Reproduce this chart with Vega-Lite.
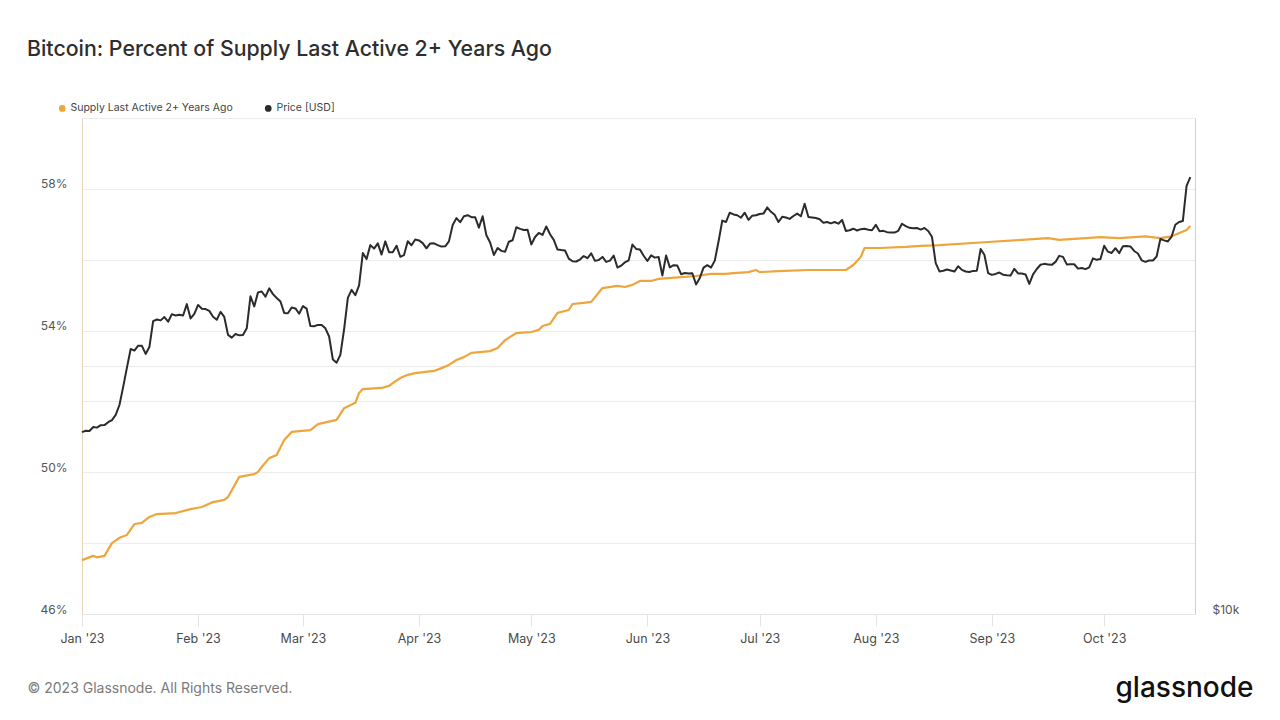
{
  "$schema": "https://vega.github.io/schema/vega-lite/v6.json",
  "width": 1113,
  "height": 496,
  "autosize": {"type": "none"},
  "padding": {"left": 82, "top": 118, "right": 85, "bottom": 106},
  "background": "white",
  "title": {
    "text": "Bitcoin: Percent of Supply Last Active 2+ Years Ago",
    "anchor": "start",
    "frame": "group",
    "dx": -55,
    "offset": 43,
    "fontSize": 21.3,
    "fontWeight": 500,
    "color": "#2e2e2e",
    "font": "Inter"
  },
  "datasets": {
    "supply": [
      {"date": "2023-01-01", "value": 47.52},
      {"date": "2023-01-04", "value": 47.64},
      {"date": "2023-01-05", "value": 47.60},
      {"date": "2023-01-07", "value": 47.64},
      {"date": "2023-01-09", "value": 48.00},
      {"date": "2023-01-11", "value": 48.15},
      {"date": "2023-01-13", "value": 48.23},
      {"date": "2023-01-15", "value": 48.54},
      {"date": "2023-01-17", "value": 48.57},
      {"date": "2023-01-19", "value": 48.74},
      {"date": "2023-01-21", "value": 48.82},
      {"date": "2023-01-26", "value": 48.85},
      {"date": "2023-01-30", "value": 48.96},
      {"date": "2023-02-02", "value": 49.02},
      {"date": "2023-02-05", "value": 49.16},
      {"date": "2023-02-08", "value": 49.22},
      {"date": "2023-02-09", "value": 49.30},
      {"date": "2023-02-12", "value": 49.87},
      {"date": "2023-02-16", "value": 49.95},
      {"date": "2023-02-17", "value": 50.01},
      {"date": "2023-02-18", "value": 50.15},
      {"date": "2023-02-20", "value": 50.40},
      {"date": "2023-02-22", "value": 50.49},
      {"date": "2023-02-24", "value": 50.91},
      {"date": "2023-02-26", "value": 51.14},
      {"date": "2023-03-03", "value": 51.19},
      {"date": "2023-03-05", "value": 51.36},
      {"date": "2023-03-10", "value": 51.48},
      {"date": "2023-03-12", "value": 51.81},
      {"date": "2023-03-15", "value": 51.96},
      {"date": "2023-03-16", "value": 52.24},
      {"date": "2023-03-17", "value": 52.35},
      {"date": "2023-03-22", "value": 52.38},
      {"date": "2023-03-24", "value": 52.44},
      {"date": "2023-03-25", "value": 52.52},
      {"date": "2023-03-27", "value": 52.66},
      {"date": "2023-03-29", "value": 52.75},
      {"date": "2023-03-31", "value": 52.80},
      {"date": "2023-04-05", "value": 52.86},
      {"date": "2023-04-07", "value": 52.94},
      {"date": "2023-04-09", "value": 53.03},
      {"date": "2023-04-11", "value": 53.17},
      {"date": "2023-04-13", "value": 53.25},
      {"date": "2023-04-15", "value": 53.37},
      {"date": "2023-04-20", "value": 53.42},
      {"date": "2023-04-22", "value": 53.51},
      {"date": "2023-04-24", "value": 53.73},
      {"date": "2023-04-27", "value": 53.93},
      {"date": "2023-05-01", "value": 53.96},
      {"date": "2023-05-03", "value": 54.02},
      {"date": "2023-05-04", "value": 54.13},
      {"date": "2023-05-06", "value": 54.19},
      {"date": "2023-05-08", "value": 54.50},
      {"date": "2023-05-11", "value": 54.58},
      {"date": "2023-05-12", "value": 54.75},
      {"date": "2023-05-15", "value": 54.78},
      {"date": "2023-05-17", "value": 54.81},
      {"date": "2023-05-20", "value": 55.20},
      {"date": "2023-05-24", "value": 55.26},
      {"date": "2023-05-26", "value": 55.23},
      {"date": "2023-05-28", "value": 55.29},
      {"date": "2023-05-30", "value": 55.40},
      {"date": "2023-06-02", "value": 55.40},
      {"date": "2023-06-04", "value": 55.46},
      {"date": "2023-06-10", "value": 55.51},
      {"date": "2023-06-14", "value": 55.54},
      {"date": "2023-06-18", "value": 55.60},
      {"date": "2023-06-22", "value": 55.60},
      {"date": "2023-06-24", "value": 55.62},
      {"date": "2023-06-28", "value": 55.65},
      {"date": "2023-06-30", "value": 55.71},
      {"date": "2023-07-01", "value": 55.65},
      {"date": "2023-07-06", "value": 55.68},
      {"date": "2023-07-14", "value": 55.71},
      {"date": "2023-07-24", "value": 55.71},
      {"date": "2023-07-26", "value": 55.85},
      {"date": "2023-07-28", "value": 56.08},
      {"date": "2023-07-29", "value": 56.33},
      {"date": "2023-08-02", "value": 56.33},
      {"date": "2023-08-09", "value": 56.36},
      {"date": "2023-08-13", "value": 56.39},
      {"date": "2023-08-18", "value": 56.41},
      {"date": "2023-08-31", "value": 56.50},
      {"date": "2023-09-09", "value": 56.56},
      {"date": "2023-09-16", "value": 56.61},
      {"date": "2023-09-19", "value": 56.56},
      {"date": "2023-09-26", "value": 56.61},
      {"date": "2023-09-30", "value": 56.64},
      {"date": "2023-10-05", "value": 56.61},
      {"date": "2023-10-12", "value": 56.66},
      {"date": "2023-10-16", "value": 56.61},
      {"date": "2023-10-19", "value": 56.66},
      {"date": "2023-10-23", "value": 56.84},
      {"date": "2023-10-24", "value": 56.95}
    ],
    "price": [
      {"date": "2023-01-01", "price": 16625}, {"date": "2023-01-02", "price": 16688}, {"date": "2023-01-03", "price": 16680},
      {"date": "2023-01-04", "price": 16863}, {"date": "2023-01-05", "price": 16836}, {"date": "2023-01-06", "price": 16951},
      {"date": "2023-01-07", "price": 16955}, {"date": "2023-01-08", "price": 17091}, {"date": "2023-01-09", "price": 17196},
      {"date": "2023-01-10", "price": 17446}, {"date": "2023-01-11", "price": 17934}, {"date": "2023-01-12", "price": 18869},
      {"date": "2023-01-13", "price": 19909}, {"date": "2023-01-14", "price": 20976}, {"date": "2023-01-15", "price": 20880},
      {"date": "2023-01-16", "price": 21170}, {"date": "2023-01-17", "price": 21161}, {"date": "2023-01-18", "price": 20688},
      {"date": "2023-01-19", "price": 21086}, {"date": "2023-01-20", "price": 22676}, {"date": "2023-01-21", "price": 22777},
      {"date": "2023-01-22", "price": 22720}, {"date": "2023-01-23", "price": 22934}, {"date": "2023-01-24", "price": 22636},
      {"date": "2023-01-25", "price": 23117}, {"date": "2023-01-26", "price": 23032}, {"date": "2023-01-27", "price": 23078},
      {"date": "2023-01-28", "price": 23031}, {"date": "2023-01-29", "price": 23775}, {"date": "2023-01-30", "price": 22840},
      {"date": "2023-01-31", "price": 23139}, {"date": "2023-02-01", "price": 23723}, {"date": "2023-02-02", "price": 23471},
      {"date": "2023-02-03", "price": 23449}, {"date": "2023-02-04", "price": 23331}, {"date": "2023-02-05", "price": 22955},
      {"date": "2023-02-06", "price": 22760}, {"date": "2023-02-07", "price": 23264}, {"date": "2023-02-08", "price": 22939},
      {"date": "2023-02-09", "price": 21819}, {"date": "2023-02-10", "price": 21651}, {"date": "2023-02-11", "price": 21870},
      {"date": "2023-02-12", "price": 21788}, {"date": "2023-02-13", "price": 21808}, {"date": "2023-02-14", "price": 22220},
      {"date": "2023-02-15", "price": 24307}, {"date": "2023-02-16", "price": 23624}, {"date": "2023-02-17", "price": 24570},
      {"date": "2023-02-18", "price": 24631}, {"date": "2023-02-19", "price": 24272}, {"date": "2023-02-20", "price": 24844},
      {"date": "2023-02-21", "price": 24450}, {"date": "2023-02-22", "price": 24188}, {"date": "2023-02-23", "price": 23947},
      {"date": "2023-02-24", "price": 23198}, {"date": "2023-02-25", "price": 23175}, {"date": "2023-02-26", "price": 23554},
      {"date": "2023-02-27", "price": 23493}, {"date": "2023-02-28", "price": 23147}, {"date": "2023-03-01", "price": 23646},
      {"date": "2023-03-02", "price": 23475}, {"date": "2023-03-03", "price": 22362}, {"date": "2023-03-04", "price": 22354},
      {"date": "2023-03-05", "price": 22436}, {"date": "2023-03-06", "price": 22429}, {"date": "2023-03-07", "price": 22220},
      {"date": "2023-03-08", "price": 21718}, {"date": "2023-03-09", "price": 20363}, {"date": "2023-03-10", "price": 20187},
      {"date": "2023-03-11", "price": 20633}, {"date": "2023-03-12", "price": 22163}, {"date": "2023-03-13", "price": 24197},
      {"date": "2023-03-14", "price": 24746}, {"date": "2023-03-15", "price": 24375}, {"date": "2023-03-16", "price": 25052},
      {"date": "2023-03-17", "price": 27423}, {"date": "2023-03-18", "price": 26966}, {"date": "2023-03-19", "price": 28038},
      {"date": "2023-03-20", "price": 27767}, {"date": "2023-03-21", "price": 28176}, {"date": "2023-03-22", "price": 27307},
      {"date": "2023-03-23", "price": 28333}, {"date": "2023-03-24", "price": 27493}, {"date": "2023-03-25", "price": 27494},
      {"date": "2023-03-26", "price": 27994}, {"date": "2023-03-27", "price": 27139}, {"date": "2023-03-28", "price": 27268},
      {"date": "2023-03-29", "price": 28348}, {"date": "2023-03-30", "price": 28033}, {"date": "2023-03-31", "price": 28478},
      {"date": "2023-04-01", "price": 28411}, {"date": "2023-04-02", "price": 28199}, {"date": "2023-04-03", "price": 27790},
      {"date": "2023-04-04", "price": 28168}, {"date": "2023-04-05", "price": 28177}, {"date": "2023-04-06", "price": 28044},
      {"date": "2023-04-07", "price": 27925}, {"date": "2023-04-08", "price": 27947}, {"date": "2023-04-09", "price": 28333},
      {"date": "2023-04-10", "price": 29653}, {"date": "2023-04-11", "price": 30235}, {"date": "2023-04-12", "price": 29896},
      {"date": "2023-04-13", "price": 30399}, {"date": "2023-04-14", "price": 30485}, {"date": "2023-04-15", "price": 30318},
      {"date": "2023-04-16", "price": 30315}, {"date": "2023-04-17", "price": 29445}, {"date": "2023-04-18", "price": 30397},
      {"date": "2023-04-19", "price": 28822}, {"date": "2023-04-20", "price": 28245}, {"date": "2023-04-21", "price": 27276},
      {"date": "2023-04-22", "price": 27817}, {"date": "2023-04-23", "price": 27591}, {"date": "2023-04-24", "price": 27525},
      {"date": "2023-04-25", "price": 28307}, {"date": "2023-04-26", "price": 28422}, {"date": "2023-04-27", "price": 29473},
      {"date": "2023-04-28", "price": 29340}, {"date": "2023-04-29", "price": 29248}, {"date": "2023-04-30", "price": 29268},
      {"date": "2023-05-01", "price": 28091}, {"date": "2023-05-02", "price": 28680}, {"date": "2023-05-03", "price": 29006},
      {"date": "2023-05-04", "price": 28847}, {"date": "2023-05-05", "price": 29534}, {"date": "2023-05-06", "price": 28904},
      {"date": "2023-05-07", "price": 28454}, {"date": "2023-05-08", "price": 27695}, {"date": "2023-05-09", "price": 27654},
      {"date": "2023-05-10", "price": 27621}, {"date": "2023-05-11", "price": 27000}, {"date": "2023-05-12", "price": 26804},
      {"date": "2023-05-13", "price": 26784}, {"date": "2023-05-14", "price": 26930}, {"date": "2023-05-15", "price": 27192},
      {"date": "2023-05-16", "price": 27036}, {"date": "2023-05-17", "price": 27398}, {"date": "2023-05-18", "price": 26832},
      {"date": "2023-05-19", "price": 26890}, {"date": "2023-05-20", "price": 27129}, {"date": "2023-05-21", "price": 26753},
      {"date": "2023-05-22", "price": 26851}, {"date": "2023-05-23", "price": 27225}, {"date": "2023-05-24", "price": 26334},
      {"date": "2023-05-25", "price": 26476}, {"date": "2023-05-26", "price": 26719}, {"date": "2023-05-27", "price": 26868},
      {"date": "2023-05-28", "price": 28085}, {"date": "2023-05-29", "price": 27745}, {"date": "2023-05-30", "price": 27702},
      {"date": "2023-05-31", "price": 27219}, {"date": "2023-06-01", "price": 26819}, {"date": "2023-06-02", "price": 27249},
      {"date": "2023-06-03", "price": 27075}, {"date": "2023-06-04", "price": 27119}, {"date": "2023-06-05", "price": 25760},
      {"date": "2023-06-06", "price": 27238}, {"date": "2023-06-07", "price": 26345}, {"date": "2023-06-08", "price": 26508},
      {"date": "2023-06-09", "price": 26480}, {"date": "2023-06-10", "price": 25851}, {"date": "2023-06-11", "price": 25940},
      {"date": "2023-06-12", "price": 25902}, {"date": "2023-06-13", "price": 25918}, {"date": "2023-06-14", "price": 25124},
      {"date": "2023-06-15", "price": 25576}, {"date": "2023-06-16", "price": 26327}, {"date": "2023-06-17", "price": 26510},
      {"date": "2023-06-18", "price": 26336}, {"date": "2023-06-19", "price": 26851}, {"date": "2023-06-20", "price": 28327},
      {"date": "2023-06-21", "price": 30027}, {"date": "2023-06-22", "price": 29912}, {"date": "2023-06-23", "price": 30695},
      {"date": "2023-06-24", "price": 30548}, {"date": "2023-06-25", "price": 30480}, {"date": "2023-06-26", "price": 30271},
      {"date": "2023-06-27", "price": 30697}, {"date": "2023-06-28", "price": 30086}, {"date": "2023-06-29", "price": 30446},
      {"date": "2023-06-30", "price": 30477}, {"date": "2023-07-01", "price": 30590}, {"date": "2023-07-02", "price": 30620},
      {"date": "2023-07-03", "price": 31156}, {"date": "2023-07-04", "price": 30777}, {"date": "2023-07-05", "price": 30514},
      {"date": "2023-07-06", "price": 29909}, {"date": "2023-07-07", "price": 30346}, {"date": "2023-07-08", "price": 30292},
      {"date": "2023-07-09", "price": 30171}, {"date": "2023-07-10", "price": 30415}, {"date": "2023-07-11", "price": 30620},
      {"date": "2023-07-12", "price": 30392}, {"date": "2023-07-13", "price": 31476}, {"date": "2023-07-14", "price": 30334},
      {"date": "2023-07-15", "price": 30295}, {"date": "2023-07-16", "price": 30249}, {"date": "2023-07-17", "price": 30145},
      {"date": "2023-07-18", "price": 29856}, {"date": "2023-07-19", "price": 29913}, {"date": "2023-07-20", "price": 29793},
      {"date": "2023-07-21", "price": 29908}, {"date": "2023-07-22", "price": 29771}, {"date": "2023-07-23", "price": 30084},
      {"date": "2023-07-24", "price": 29176}, {"date": "2023-07-25", "price": 29228}, {"date": "2023-07-26", "price": 29354},
      {"date": "2023-07-27", "price": 29210}, {"date": "2023-07-28", "price": 29318}, {"date": "2023-07-29", "price": 29357},
      {"date": "2023-07-30", "price": 29275}, {"date": "2023-07-31", "price": 29230}, {"date": "2023-08-01", "price": 29675},
      {"date": "2023-08-02", "price": 29152}, {"date": "2023-08-03", "price": 29179}, {"date": "2023-08-04", "price": 29074},
      {"date": "2023-08-05", "price": 29043}, {"date": "2023-08-06", "price": 29041}, {"date": "2023-08-07", "price": 29181},
      {"date": "2023-08-08", "price": 29766}, {"date": "2023-08-09", "price": 29562}, {"date": "2023-08-10", "price": 29429},
      {"date": "2023-08-11", "price": 29397}, {"date": "2023-08-12", "price": 29416}, {"date": "2023-08-13", "price": 29283},
      {"date": "2023-08-14", "price": 29409}, {"date": "2023-08-15", "price": 29170}, {"date": "2023-08-16", "price": 28701},
      {"date": "2023-08-17", "price": 26664}, {"date": "2023-08-18", "price": 26050}, {"date": "2023-08-19", "price": 26096},
      {"date": "2023-08-20", "price": 26189}, {"date": "2023-08-21", "price": 26124}, {"date": "2023-08-22", "price": 26040},
      {"date": "2023-08-23", "price": 26431}, {"date": "2023-08-24", "price": 26163}, {"date": "2023-08-25", "price": 26049},
      {"date": "2023-08-26", "price": 26008}, {"date": "2023-08-27", "price": 26090}, {"date": "2023-08-28", "price": 26106},
      {"date": "2023-08-29", "price": 27728}, {"date": "2023-08-30", "price": 27297}, {"date": "2023-08-31", "price": 25931},
      {"date": "2023-09-01", "price": 25800}, {"date": "2023-09-02", "price": 25869}, {"date": "2023-09-03", "price": 25969},
      {"date": "2023-09-04", "price": 25813}, {"date": "2023-09-05", "price": 25779}, {"date": "2023-09-06", "price": 25754},
      {"date": "2023-09-07", "price": 26241}, {"date": "2023-09-08", "price": 25905}, {"date": "2023-09-09", "price": 25895},
      {"date": "2023-09-10", "price": 25832}, {"date": "2023-09-11", "price": 25162}, {"date": "2023-09-12", "price": 25833},
      {"date": "2023-09-13", "price": 26228}, {"date": "2023-09-14", "price": 26539}, {"date": "2023-09-15", "price": 26608},
      {"date": "2023-09-16", "price": 26568}, {"date": "2023-09-17", "price": 26534}, {"date": "2023-09-18", "price": 26754},
      {"date": "2023-09-19", "price": 27211}, {"date": "2023-09-20", "price": 27132}, {"date": "2023-09-21", "price": 26568},
      {"date": "2023-09-22", "price": 26580}, {"date": "2023-09-23", "price": 26579}, {"date": "2023-09-24", "price": 26256},
      {"date": "2023-09-25", "price": 26299}, {"date": "2023-09-26", "price": 26217}, {"date": "2023-09-27", "price": 26352},
      {"date": "2023-09-28", "price": 27021}, {"date": "2023-09-29", "price": 26911}, {"date": "2023-09-30", "price": 26967},
      {"date": "2023-10-01", "price": 27983}, {"date": "2023-10-02", "price": 27530}, {"date": "2023-10-03", "price": 27429},
      {"date": "2023-10-04", "price": 27799}, {"date": "2023-10-05", "price": 27415}, {"date": "2023-10-06", "price": 27946},
      {"date": "2023-10-07", "price": 27968}, {"date": "2023-10-08", "price": 27935}, {"date": "2023-10-09", "price": 27583},
      {"date": "2023-10-10", "price": 27391}, {"date": "2023-10-11", "price": 26873}, {"date": "2023-10-12", "price": 26756},
      {"date": "2023-10-13", "price": 26862}, {"date": "2023-10-14", "price": 26861}, {"date": "2023-10-15", "price": 27159},
      {"date": "2023-10-16", "price": 28519}, {"date": "2023-10-17", "price": 28415}, {"date": "2023-10-18", "price": 28328},
      {"date": "2023-10-19", "price": 28719}, {"date": "2023-10-20", "price": 29682}, {"date": "2023-10-21", "price": 29909},
      {"date": "2023-10-22", "price": 29992}, {"date": "2023-10-23", "price": 33086}, {"date": "2023-10-24", "price": 33901}
    ]
  },
  "encoding": {
    "x": {
      "field": "date",
      "type": "temporal",
      "scale": {
        "type": "utc",
        "domain": [
          {"year": 2023, "month": "jan", "date": 1, "utc": true},
          {"year": 2023, "month": "oct", "date": 25, "hours": 6, "utc": true}
        ]
      },
      "axis": {
        "title": "© 2023 Glassnode. All Rights Reserved.",
        "titleAnchor": "start",
        "titleAlign": "left",
        "titleBaseline": "middle",
        "titleX": -55,
        "titleY": 74,
        "titleFontSize": 14,
        "titleFontWeight": "normal",
        "titleColor": "#7a7a7a",
        "format": "%b '%y",
        "tickCount": {"interval": "month", "step": 1},
        "grid": false,
        "domain": true,
        "domainColor": "#e4e4e4",
        "ticks": true,
        "tickColor": "#e4e4e4",
        "tickSize": 12,
        "labelPadding": 6,
        "labelFontSize": 12.5,
        "labelColor": "#4a4a4a",
        "labelAlign": "center"
      }
    }
  },
  "layer": [
    {
      "data": {"name": "supply"},
      "mark": {"type": "line", "strokeWidth": 2.2, "strokeJoin": "round"},
      "encoding": {
        "y": {
          "field": "value",
          "type": "quantitative",
          "scale": {"domain": [46, 60], "nice": false, "zero": false},
          "axis": {
            "title": null,
            "orient": "left",
            "values": [46, 48, 50, 52, 54, 56, 58, 60],
            "labelExpr": "(datum.value - 46) % 4 == 0 ? datum.value + '%' : ''",
            "grid": true,
            "gridColor": "#ececec",
            "domain": true,
            "domainColor": "#e8d6b8",
            "ticks": false,
            "labelPadding": 15,
            "labelFontSize": 12,
            "labelColor": "#555555",
            "labelBaseline": "alphabetic",
            "labelOffset": -1
          }
        },
        "color": {
          "datum": "Supply Last Active 2+ Years Ago",
          "type": "nominal",
          "scale": {
            "domain": ["Supply Last Active 2+ Years Ago", "Price [USD]"],
            "range": ["#eea53c", "#2b2b2b"]
          },
          "legend": {
            "title": null,
            "orient": "none",
            "direction": "horizontal",
            "legendX": -25,
            "legendY": -15,
            "padding": 0,
            "symbolType": "circle",
            "symbolSize": 45,
            "symbolStrokeWidth": 0,
            "labelFontSize": 10.5,
            "labelLimit": 0,
            "labelColor": "#444444",
            "labelOffset": 3,
            "columnPadding": 30,
            "encode": {
              "symbols": {
                "update": {
                  "fill": {"scale": "color", "field": "value"},
                  "opacity": {"value": 1}
                }
              }
            }
          }
        }
      }
    },
    {
      "data": {"name": "price"},
      "mark": {"type": "line", "strokeWidth": 2, "strokeJoin": "round"},
      "encoding": {
        "y": {
          "field": "price",
          "type": "quantitative",
          "scale": {"type": "log", "domain": [10000, 40000], "nice": false},
          "axis": {
            "orient": "right",
            "title": "glassnode",
            "titleAngle": 0,
            "titleAlign": "right",
            "titleBaseline": "middle",
            "titleX": 58,
            "titleY": 570,
            "titleFontSize": 28,
            "titleFontWeight": 500,
            "titleColor": "#111111",
            "values": [10000, 20000],
            "labelExpr": "datum.value == 10000 ? '$10k' : ''",
            "grid": true,
            "gridColor": "#ececec",
            "domain": true,
            "domainColor": "#cfcfcf",
            "ticks": false,
            "labelPadding": 17,
            "labelFontSize": 12,
            "labelColor": "#555555",
            "labelBaseline": "alphabetic",
            "labelOffset": -1
          }
        },
        "color": {"datum": "Price [USD]", "type": "nominal"}
      }
    }
  ],
  "resolve": {"scale": {"y": "independent"}},
  "config": {
    "font": "Inter",
    "view": {"stroke": null},
    "axis": {"labelFont": "Inter", "titleFont": "Inter"},
    "legend": {"labelFont": "Inter"}
  }
}
